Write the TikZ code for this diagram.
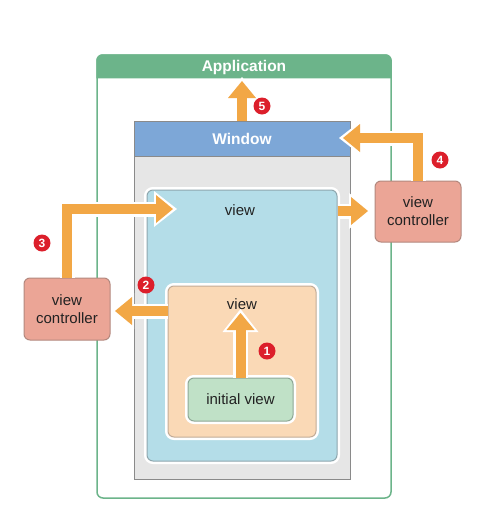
\documentclass[tikz,border=0pt]{standalone}
\usepackage{fontspec}
\setmainfont{Liberation Sans}
\usetikzlibrary{arrows.meta,calc}
\definecolor{appgreen}{HTML}{6CB48A}
\definecolor{winblue}{HTML}{7DA7D7}
\definecolor{winborder}{HTML}{8A8A8A}
\definecolor{wingray}{HTML}{E6E6E6}
\definecolor{viewblue}{HTML}{B4DDE8}
\definecolor{viewborder}{HTML}{8FA7AE}
\definecolor{vieworange}{HTML}{FAD9B6}
\definecolor{orangeborder}{HTML}{C2AC98}
\definecolor{initgreen}{HTML}{C0E1C7}
\definecolor{initborder}{HTML}{8FA896}
\definecolor{vcsalmon}{HTML}{EBA596}
\definecolor{vcborder}{HTML}{B3887E}
\definecolor{flowor}{HTML}{F2A745}
\definecolor{badgered}{HTML}{DC1F2B}
\definecolor{txt}{HTML}{222222}
\begin{document}
\begin{tikzpicture}[x=1pt,y=-1pt,
 box/.style={draw, rounded corners=6pt, line width=1pt, inner sep=0pt},
 halo/.style={preaction={draw=white, line width=6pt}},
 lbl/.style={font=\fontsize{15}{18}\selectfont, text=txt, inner sep=0pt, align=center},
 hdr/.style={font=\fontsize{15.5}{18}\selectfont\bfseries, text=white, inner sep=0pt},
 flow/.style={draw=flowor, line width=10pt,
   -{Triangle[length=17pt,width=28pt,line width=0pt]},
   preaction={draw=white, line width=15pt, shorten >=-4pt,
     -{Triangle[length=23pt,width=36pt,line width=0pt]}}},
 badge/.style={circle, fill=badgered, minimum size=17pt, inner sep=0pt,
   text=white, font=\fontsize{12}{12}\selectfont\bfseries},
]
\useasboundingbox (0,0) rectangle (500,512);

% Application frame
\node[draw=appgreen, line width=1.5pt, rounded corners=6pt, minimum width=294pt,
  minimum height=443pt, inner sep=0pt] (app) at (244,276.5) {};
\fill[appgreen] ($(app.north west)+(0,24)$) {[rounded corners=6pt] -- (app.north west) -- (app.north east)} -- ($(app.north east)+(0,24)$) -- cycle;
\node[hdr] (apptitle) at (244,67) {Application};

% Window
\node[draw=winborder, fill=wingray, line width=1pt, minimum width=216pt,
  minimum height=358pt, inner sep=0pt] (window) at (242,300) {};
\node[hdr, draw=winborder, fill=winblue, line width=1pt, minimum width=216pt,
  minimum height=35pt, anchor=north] (winhdr) at (window.north) {Window};

% Views
\node[box, draw=viewborder, fill=viewblue, halo, minimum width=190pt,
  minimum height=271pt] (outer) at (242,325.5) {};
\node[lbl] (outerlbl) at (240,210) {view};
\node[box, draw=orangeborder, fill=vieworange, halo, minimum width=148pt,
  minimum height=151pt] (inner) at (242,361.5) {};
\node[lbl] (innerlbl) at (242,304) {view};
\node[box, lbl, draw=initborder, fill=initgreen, halo, minimum width=105pt,
  minimum height=43pt] (initial) at (240.5,399.5) {initial view};

% View controllers
\node[box, lbl, draw=vcborder, fill=vcsalmon, minimum width=86pt,
  minimum height=62pt] (vcL) at (67,309) {view\\controller};
\node[box, lbl, draw=vcborder, fill=vcsalmon, minimum width=86pt,
  minimum height=61pt] (vcR) at (418,211.5) {view\\controller};

% Arrow end points
\coordinate (t1) at (240.5,313);
\coordinate (t2) at (115,311);
\coordinate (t3) at (173,209);
\coordinate (t4) at (343,138);
\coordinate (t5) at (242,81);
\coordinate (t6) at (368,211);

% Arrows
\draw[flow] (initial.north) -- (t1);
\draw[flow] (inner.west |- t2) -- (t2);
\draw[flow] (vcL.north) |- (t3);
\draw[flow] (outer.east |- t6) -- (t6);
\draw[flow] (vcR.north) |- (t4);
\draw[flow] (window.north) -- (t5);

% Badges
\node[badge] (b1) at (267,351) {1};
\node[badge] (b2) at (146,285) {2};
\node[badge] (b3) at (42,243) {3};
\node[badge] (b4) at (440,160) {4};
\node[badge] (b5) at (262,106) {5};
\end{tikzpicture}
\end{document}
